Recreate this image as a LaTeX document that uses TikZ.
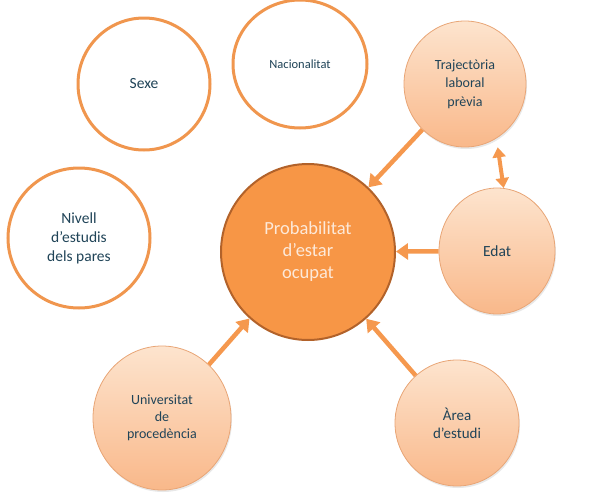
\documentclass[tikz,border=0pt]{standalone}
\usepackage{fontspec}
\setmainfont{Carlito}
\usepackage{tikz}
\usetikzlibrary{arrows.meta,shapes.geometric,shadows}

\definecolor{ringorange}{RGB}{240,150,78}
\definecolor{edgeorange}{RGB}{232,165,118}
\definecolor{peachtop}{RGB}{253,228,206}
\definecolor{peachbottom}{RGB}{249,184,138}
\definecolor{coreorange}{RGB}{247,150,70}
\definecolor{corerim}{RGB}{178,98,42}
\definecolor{coretext}{RGB}{253,233,217}
\definecolor{labelblue}{RGB}{32,68,88}
\definecolor{arroworange}{RGB}{245,152,78}

\begin{document}
\begin{tikzpicture}[
    x=1pt, y=-1pt,
    plain/.style={ellipse, draw=ringorange, line width=3pt, fill=white,
                  text=labelblue, align=center, inner sep=0pt},
    factor/.style={ellipse, draw=edgeorange, line width=0.8pt,
                   top color=peachtop, bottom color=peachbottom,
                   text=labelblue, align=center, inner sep=0pt,
                   drop shadow={opacity=0.18, shadow xshift=1pt, shadow yshift=-2pt}},
    target/.style={ellipse, draw=corerim, line width=2pt, fill=coreorange,
                   text=coretext, align=center, inner sep=0pt},
    link/.style={draw=arroworange, line width=4.5pt,
                 -{Triangle[length=12pt,width=16pt]}},
  ]
  \useasboundingbox (0,0) rectangle (600,498);

  % factors not linked to the outcome
  \node[plain, minimum width=132pt, minimum height=132pt,
        font=\fontsize{15.5}{19}\selectfont] (sexe) at (144,84) {Sexe};
  \node[plain, minimum width=134pt, minimum height=128pt,
        font=\fontsize{12.5}{15}\selectfont] (nacio) at (300,64) {Nacionalitat};
  \node[plain, minimum width=142pt, minimum height=140pt,
        font=\fontsize{15.5}{19}\selectfont] (pares) at (79,238)
    {Nivell\\d’estudis\\dels pares};

  % outcome
  \node[target, minimum width=174pt, minimum height=176pt,
        font=\fontsize{18.5}{22}\selectfont] (ocup) at (308,252)
    {Probabilitat\\d’estar\\ocupat};

  % factors linked to the outcome
  \node[factor, minimum width=122pt, minimum height=126pt,
        font=\fontsize{14}{18.5}\selectfont] (traj) at (465,84)
    {Trajectòria\\laboral\\prèvia};
  \node[factor, minimum width=116pt, minimum height=126pt,
        font=\fontsize{15.5}{19}\selectfont] (edat) at (497,251) {Edat};
  \node[factor, minimum width=138pt, minimum height=144pt,
        font=\fontsize{14}{17}\selectfont] (univ) at (162,418)
    {Universitat\\de\\procedència};
  \node[factor, minimum width=124pt, minimum height=126pt,
        font=\fontsize{15}{18}\selectfont] (area) at (457,423)
    {Àrea\\d’estudi};

  % arrows towards the outcome
  \draw[link] (traj) -- (ocup);
  \draw[link] (edat) -- (ocup);
  \draw[link] (area) -- (ocup);
  \draw[link] (univ) -- (ocup);
  \draw[link, line width=4pt, {Triangle[length=10pt,width=13pt]}-{Triangle[length=10pt,width=13pt]},
        shorten <=9pt] (traj.-60) -- (edat.84);
\end{tikzpicture}
\end{document}
